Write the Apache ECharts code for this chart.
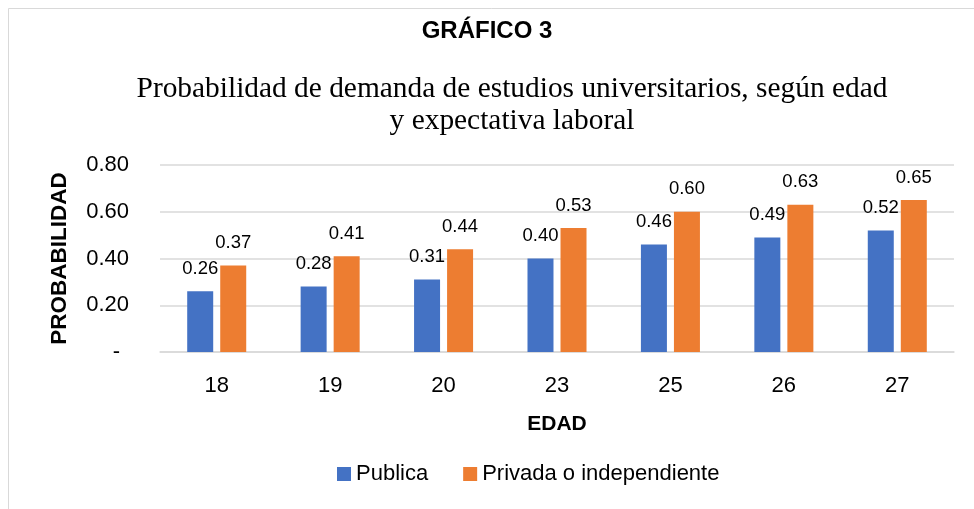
<!DOCTYPE html>
<html>
<head>
<meta charset="utf-8">
<script src="https://cdn.jsdelivr.net/npm/echarts@6/dist/echarts.min.js"></script>
<style>
  html, body { margin: 0; padding: 0; background: #fff; }
  #chart { width: 974px; height: 509px; }
</style>
</head>
<body>
<div id="chart"></div>
<script>
// datos
var edades = ['18', '19', '20', '23', '25', '26', '27'];
var publica = [0.26, 0.28, 0.31, 0.40, 0.46, 0.49, 0.52];
var privada = [0.37, 0.41, 0.44, 0.53, 0.60, 0.63, 0.65];
var seriesNames = ['Publica', 'Privada o independiente'];

var sans = 'Liberation Sans, Arial, sans-serif';

var myChart = echarts.init(document.getElementById('chart'));

var options = {
    backgroundColor: '#fff',
    animation: false,
    graphic: [{
        type: 'rect',
        shape: { x: 8.5, y: 8.5, width: 1000, height: 600 },
        style: { fill: 'none', stroke: '#d9d9d9', lineWidth: 1 }
    }],
    title: [{
        text: 'GRÁFICO 3',
        left: 'center',
        top: 12,
        textStyle: { fontFamily: sans, fontWeight: 'bold', fontSize: 24, lineHeight: 28, color: '#000' }
    }, {
        text: 'Probabilidad de demanda de estudios universitarios, según edad\ny expectativa laboral',
        left: 507,
        top: 68,
        textAlign: 'center',
        textStyle: { fontFamily: 'Liberation Serif, Times New Roman, serif', fontWeight: 'normal', fontSize: 29.4, lineHeight: 32, color: '#000' }
    }],
    legend: {
        data: seriesNames,
        bottom: 19,
        left: 332,
        itemWidth: 14,
        itemHeight: 14,
        itemGap: 35,
        icon: 'rect',
        textStyle: { fontFamily: sans, fontSize: 22, color: '#000' }
    },
    grid: { left: 160, right: 20, top: 165, bottom: 157, containLabel: false },
    xAxis: {
        type: 'category',
        data: edades,
        name: 'EDAD',
        nameLocation: 'middle',
        nameGap: 62,
        nameTextStyle: { fontFamily: sans, fontWeight: 'bold', fontSize: 21, color: '#000' },
        axisLine: { lineStyle: { color: '#d9d9d9', width: 1.5 } },
        axisTick: { show: false },
        axisLabel: { fontFamily: sans, fontSize: 22, color: '#000', margin: 23 }
    },
    yAxis: {
        type: 'value',
        min: 0,
        max: 0.8,
        interval: 0.2,
        name: 'PROBABILIDAD',
        nameLocation: 'middle',
        nameGap: 89,
        nameRotate: 90,
        nameTextStyle: { fontFamily: sans, fontWeight: 'bold', fontSize: 22.5, color: '#000' },
        axisLine: { show: false },
        axisTick: { show: false },
        splitLine: { lineStyle: { color: '#d9d9d9', width: 1.5 } },
        axisLabel: {
            fontFamily: sans, fontSize: 22, color: '#000', margin: 31,
            formatter: function (v) { return v === 0 ? '-\u2009\u2009' : v.toFixed(2); }
        }
    },
    series: [{
        name: seriesNames[0],
        type: 'bar',
        data: publica,
        barWidth: 26,
        barGap: '27%',
        itemStyle: { color: '#4472c4' },
        label: {
            show: true, position: 'top', distance: 13,
            fontFamily: sans, fontSize: 18.5, color: '#000',
            formatter: function (p) { return p.value.toFixed(2); }
        }
    }, {
        name: seriesNames[1],
        type: 'bar',
        data: privada,
        barWidth: 26,
        itemStyle: { color: '#ed7d31' },
        label: {
            show: true, position: 'top', distance: 13,
            fontFamily: sans, fontSize: 18.5, color: '#000',
            formatter: function (p) { return p.value.toFixed(2); }
        }
    }]
};

myChart.setOption(options);
window.addEventListener('resize', function () { myChart.resize(); });
</script>
</body>
</html>
